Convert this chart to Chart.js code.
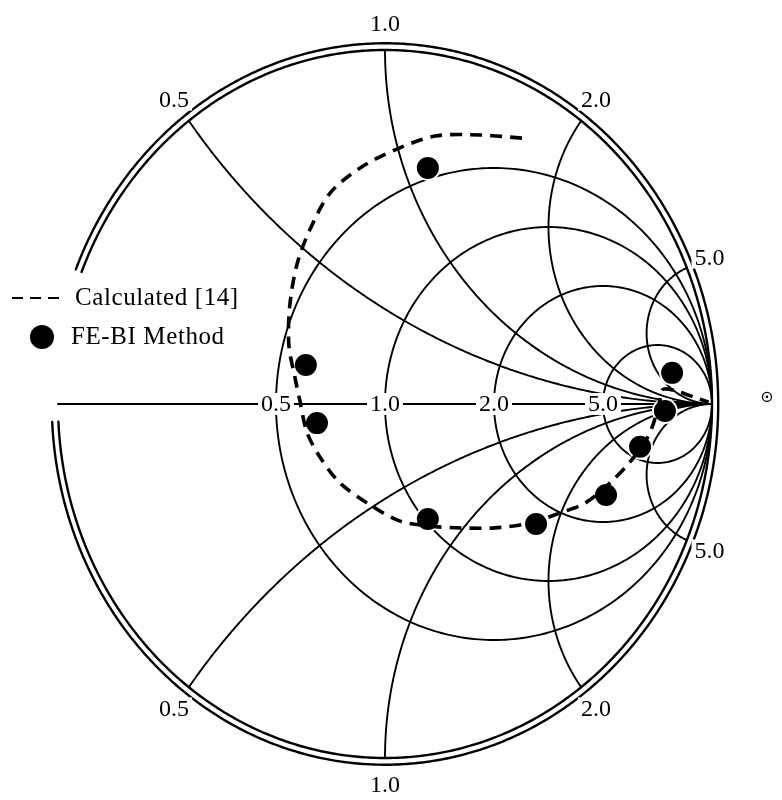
<!DOCTYPE html>
<html>
<head>
<meta charset="utf-8">
<script src="https://cdn.jsdelivr.net/npm/chart.js@4.4.1/dist/chart.umd.min.js"></script>
<style>
  html, body { margin: 0; padding: 0; background: #fff; }
  #wrap { width: 782px; height: 800px; position: relative; }
</style>
</head>
<body>
<div id="wrap"><canvas id="smith" width="782" height="800"></canvas></div>
<script>
// Smith chart grid: constant-resistance circles and constant-reactance arcs
const resistanceValues = [0.5, 1, 2, 5];
const resistanceLabels = ['0.5', '1.0', '2.0', '5.0'];
const reactanceValues = [0.5, 1, 2, 5];
const reactanceLabels = ['0.5', '1.0', '2.0', '5.0'];

// Calculated [14] — reflection coefficient, real and imaginary parts
const calcRe = [0.419, 0.291, 0.153, 0.031, -0.076, -0.168, -0.229, -0.269, -0.291, -0.294,
                -0.275, -0.260, -0.239, -0.199, -0.138, -0.046, 0.046, 0.138, 0.229, 0.336,
                0.443, 0.535, 0.612, 0.688, 0.749, 0.795, 0.817, 0.832, 0.843, 0.852,
                0.900, 0.955, 0.990];
const calcIm = [0.751, 0.760, 0.757, 0.718, 0.667, 0.596, 0.494, 0.395, 0.280, 0.167,
                0.073, 0.008, -0.079, -0.150, -0.223, -0.285, -0.331, -0.345, -0.350, -0.350,
                -0.336, -0.308, -0.280, -0.223, -0.164, -0.107, -0.065, -0.020, 0.018, 0.042,
                0.034, 0.016, 0.005];

// FE-BI Method — reflection coefficient, real and imaginary parts
const febiRe = [0.131, -0.242, -0.208, 0.131, 0.462, 0.676, 0.780, 0.856, 0.878];
const febiIm = [0.667, 0.110, -0.054, -0.325, -0.339, -0.257, -0.121, -0.020, 0.088];

const SERIF = "'Liberation Serif', 'DejaVu Serif', serif";

const toPoints = (re, im) => re.map((u, i) => ({ x: u, y: im[i] }));

// Draws a polyline through Γ-plane points using the chart's scales
function strokeGamma(ctx, chart, pts) {
  const sx = chart.scales.x, sy = chart.scales.y;
  ctx.beginPath();
  pts.forEach((p, i) => {
    const px = sx.getPixelForValue(p[0]), py = sy.getPixelForValue(p[1]);
    if (i === 0) ctx.moveTo(px, py); else ctx.lineTo(px, py);
  });
  ctx.stroke();
}

function arcPts(cu, cv, r, a0, a1, n) {
  const pts = [];
  for (let i = 0; i <= n; i++) {
    const t = a0 + (a1 - a0) * i / n;
    pts.push([cu + r * Math.cos(t), cv + r * Math.sin(t)]);
  }
  return pts;
}

function label(ctx, chart, text, u, v, bg) {
  const px = chart.scales.x.getPixelForValue(u);
  const py = chart.scales.y.getPixelForValue(v);
  ctx.font = '24px ' + SERIF;
  ctx.textAlign = 'center';
  ctx.textBaseline = 'middle';
  if (bg) {
    const w = ctx.measureText(text).width;
    ctx.fillStyle = '#fff';
    ctx.fillRect(px - w / 2 - 3, py - 11, w + 6, 22);
  }
  ctx.fillStyle = '#000';
  ctx.fillText(text, px, py + 1);
}

const smithGrid = {
  id: 'smithGrid',
  beforeDatasetsDraw(chart) {
    const ctx = chart.ctx;
    ctx.save();
    ctx.strokeStyle = '#000';
    ctx.lineCap = 'round';
    ctx.lineWidth = 1.9;

    // real axis
    strokeGamma(ctx, chart, [[-1, 0], [1, 0]]);

    // constant-resistance circles
    resistanceValues.forEach(r => {
      strokeGamma(ctx, chart, arcPts(r / (1 + r), 0, 1 / (1 + r), 0, 2 * Math.PI, 360));
    });

    // constant-reactance arcs, above and below the real axis
    reactanceValues.forEach(x => {
      const pu = (x * x - 1) / (x * x + 1), pv = 2 * x / (x * x + 1);
      let end = Math.atan2(pv - 1 / x, pu - 1);
      if (end > -Math.PI / 2) end -= 2 * Math.PI;
      const upper = arcPts(1, 1 / x, 1 / x, -Math.PI / 2, end, 300);
      strokeGamma(ctx, chart, upper);
      strokeGamma(ctx, chart, upper.map(p => [p[0], -p[1]]));
    });

    // double outer rim, open on the left where the key sits
    ctx.lineWidth = 2.4;
    const gapTop = Math.PI - Math.asin(0.373);
    const gapBot = Math.PI + Math.asin(0.05);
    [1, 1.019].forEach(R => {
      strokeGamma(ctx, chart, arcPts(0, 0, R, gapBot, gapTop + 2 * Math.PI, 720));
    });

    // resistance labels on the real axis
    resistanceValues.forEach((r, i) => {
      label(ctx, chart, resistanceLabels[i], (r - 1) / (r + 1), 0, true);
    });

    // reactance labels just outside the rim
    reactanceValues.forEach((x, i) => {
      const pu = (x * x - 1) / (x * x + 1), pv = 2 * x / (x * x + 1);
      const k = 1.075;
      label(ctx, chart, reactanceLabels[i], pu * k, pv * k, true);
      label(ctx, chart, reactanceLabels[i], pu * k, -pv * k, true);
    });
    ctx.restore();
  },
  afterDatasetsDraw(chart) {
    const ctx = chart.ctx;
    ctx.save();
    // key
    ctx.strokeStyle = '#000';
    ctx.lineWidth = 2.2;
    ctx.setLineDash([11, 7]);
    ctx.beginPath();
    ctx.moveTo(12, 298);
    ctx.lineTo(66, 298);
    ctx.stroke();
    ctx.setLineDash([]);
    ctx.fillStyle = '#000';
    ctx.beginPath();
    ctx.arc(42, 337, 12, 0, 2 * Math.PI);
    ctx.fill();
    ctx.font = '25px ' + SERIF;
    ctx.letterSpacing = '0.6px';
    ctx.textAlign = 'left';
    ctx.textBaseline = 'middle';
    ctx.fillText('Calculated [14]', 75, 298);
    ctx.fillText('FE-BI Method', 71, 337);
    ctx.letterSpacing = '0px';

    // small ring marker to the right of the rim
    const px = chart.scales.x.getPixelForValue(1.168);
    const py = chart.scales.y.getPixelForValue(0.02);
    ctx.lineWidth = 1.3;
    ctx.beginPath();
    ctx.arc(px, py, 4.5, 0, 2 * Math.PI);
    ctx.stroke();
    ctx.beginPath();
    ctx.arc(px, py, 1.3, 0, 2 * Math.PI);
    ctx.fill();
    ctx.restore();
  }
};

new Chart(document.getElementById('smith'), {
  type: 'scatter',
  data: {
    datasets: [
      {
        label: 'Calculated [14]',
        data: toPoints(calcRe, calcIm),
        showLine: true,
        borderColor: '#000',
        borderWidth: 3.6,
        borderDash: [12, 8],
        pointRadius: 0,
        tension: 0.3,
        fill: false,
        clip: false
      },
      {
        label: 'FE-BI Method',
        data: toPoints(febiRe, febiIm),
        showLine: false,
        pointRadius: 12,
        pointBackgroundColor: '#000',
        pointBorderColor: '#fff',
        pointBorderWidth: 2,
        clip: false
      }
    ]
  },
  options: {
    responsive: false,
    devicePixelRatio: 1,
    animation: false,
    events: [],
    layout: { padding: { left: 58, right: 70, top: 50, bottom: 42 } },
    scales: {
      x: { type: 'linear', min: -1, max: 1, display: false },
      y: { type: 'linear', min: -1, max: 1, display: false }
    },
    plugins: { legend: { display: false }, tooltip: { enabled: false } }
  },
  plugins: [smithGrid]
});
</script>
</body>
</html>
